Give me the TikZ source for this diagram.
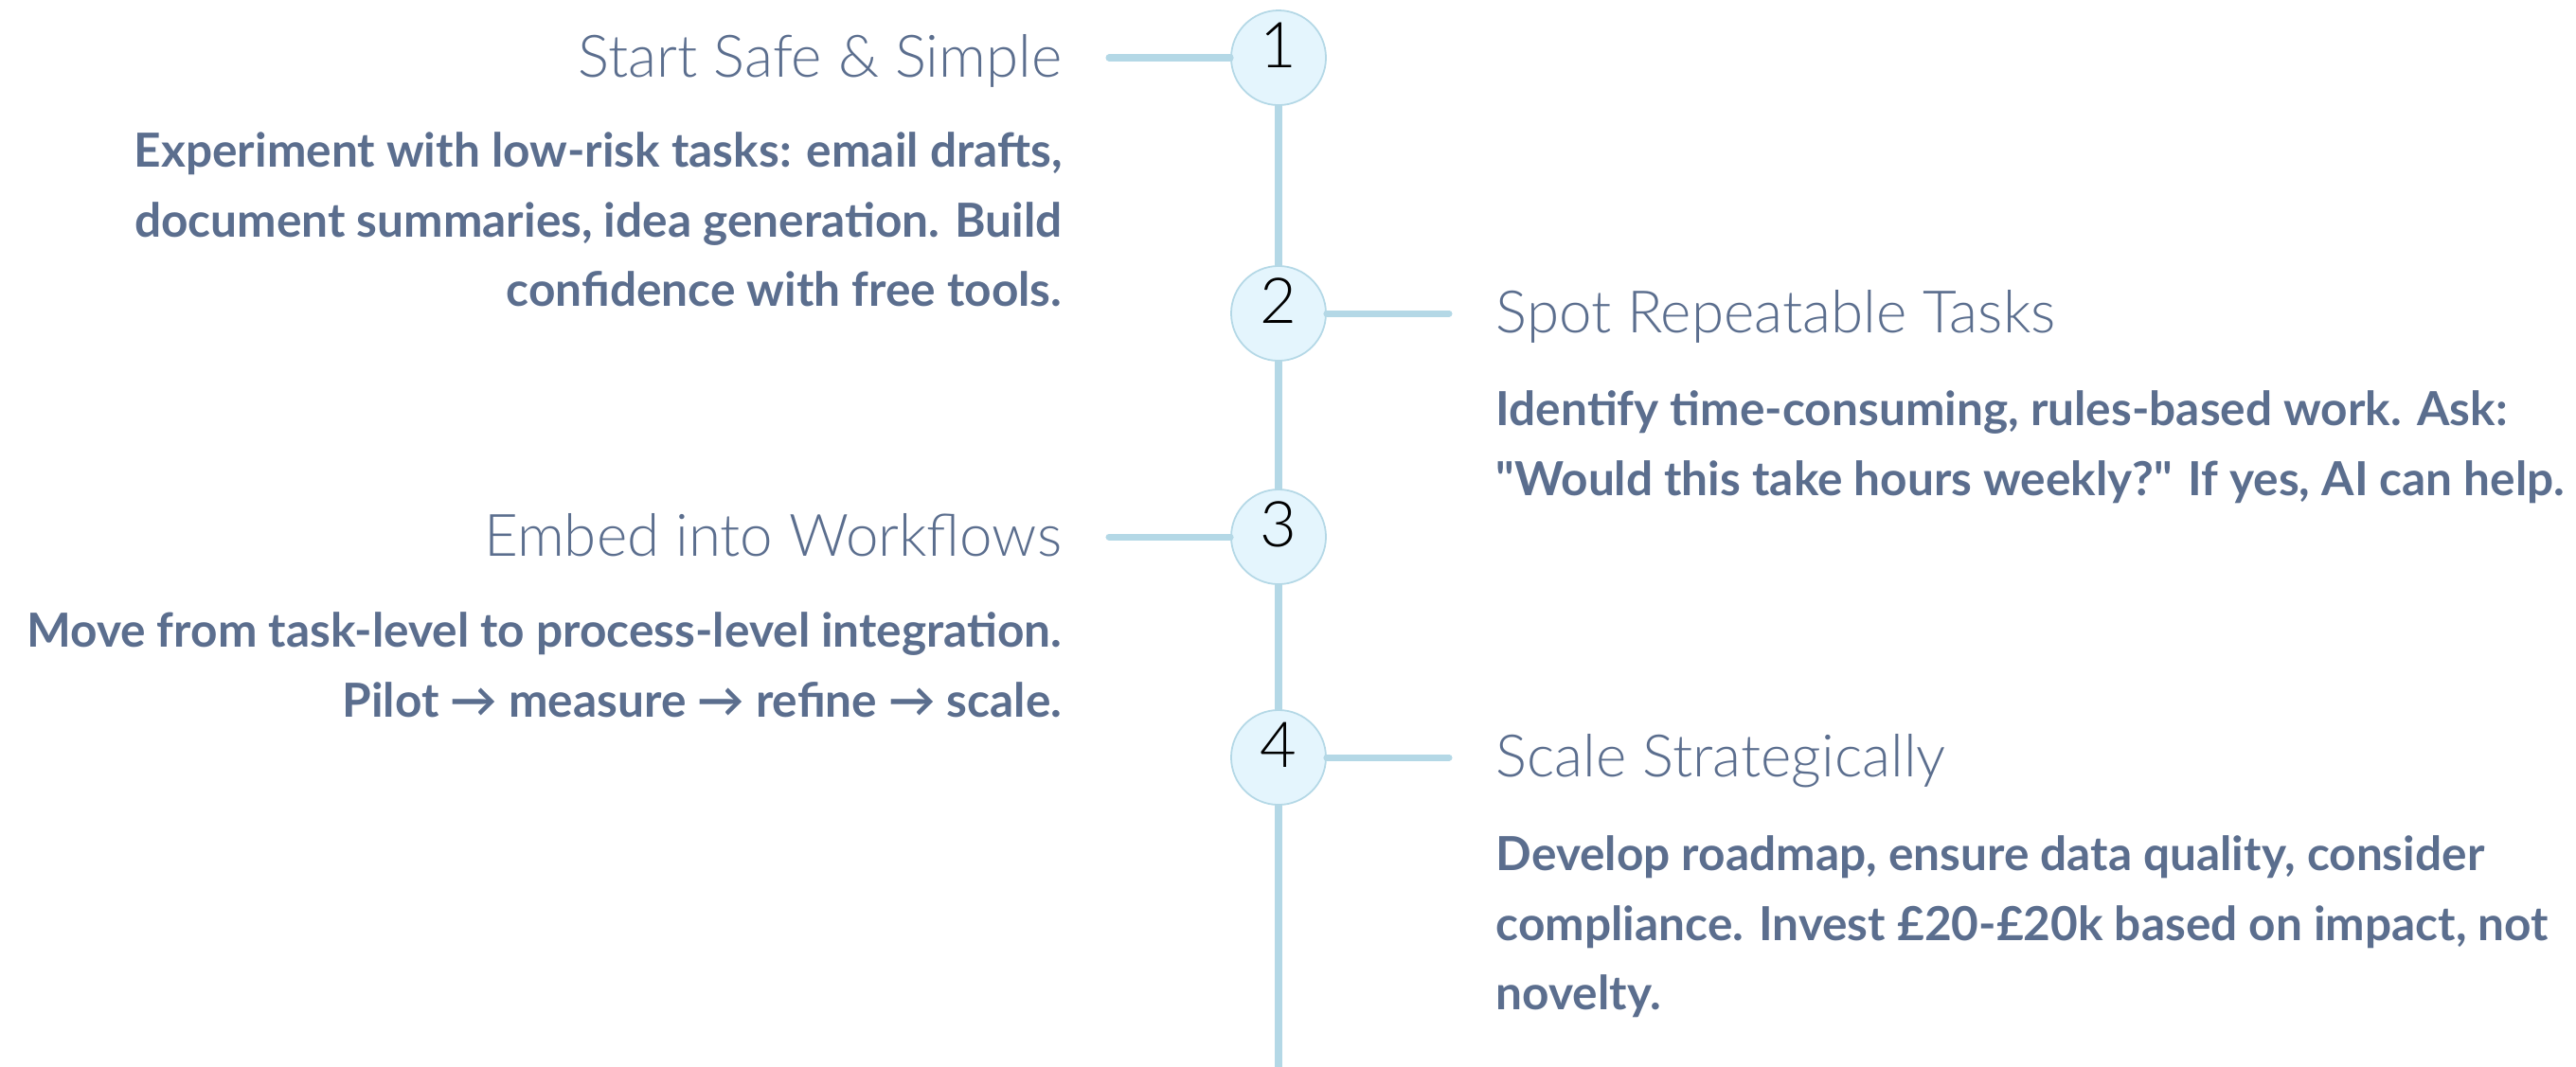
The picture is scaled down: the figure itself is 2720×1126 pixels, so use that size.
\documentclass[tikz,border=0pt]{standalone}
\usepackage{fontspec}
\setmainfont{Lato}
\newfontfamily\titlefont{Lato Light}
\newfontfamily\numfont{Lato Light}
\usetikzlibrary{positioning}
\definecolor{slate}{HTML}{5B6E8E}
\definecolor{railblue}{HTML}{B4D8E6}
\definecolor{bubble}{HTML}{E4F5FD}
\tikzset{font={\fontsize{12pt}{20.8pt}\selectfont}}

\begin{document}
\begin{tikzpicture}[x=0.01cm,y=-0.01cm,
    rail/.style={draw=railblue,line width=2pt,line cap=round},
    step node/.style={circle,draw=railblue,line width=0.5pt,fill=bubble,minimum size=1cm,
                      inner sep=0pt,text depth=0.26cm,text=black,font={\numfont\fontsize{19pt}{20pt}\selectfont}},
    head/.style={inner sep=0pt,text=slate,font={\titlefont\fontsize{17.6pt}{20pt}\selectfont}},
    blurb/.style={inner sep=0pt,text=slate,font={\bfseries\fontsize{14.1pt}{20.8pt}\selectfont}}]

  \useasboundingbox (0,0) rectangle (2720,1126);

  % the rail
  \coordinate (top) at (1350,61);
  \coordinate (bot) at (1350,1140);
  \draw[rail] (top) -- (bot);

  \node[step node] (1) at (1350,61)  {1};
  \node[step node] (2) at (1350,331) {2};
  \node[step node] (3) at (1350,567) {3};
  \node[step node] (4) at (1350,800) {4};

  % stubs
  \coordinate (e1) at (1171,61);
  \coordinate (e2) at (1530,331);
  \coordinate (e3) at (1171,567);
  \coordinate (e4) at (1530,800);
  \draw[rail] (1) -- (e1)
              (2) -- (e2)
              (3) -- (e3)
              (4) -- (e4);

  % left side (base of a blurb = its last line)
  \node[head,anchor=base east] (t1) at ([xshift=-0.49cm,yshift=-0.20cm]e1) {Start Safe \& Simple};
  \node[blurb,anchor=base east,align=right] (b1) at ([yshift=-2.42cm]t1.base east)
    {Experiment with low-risk tasks: email drafts,\\
     document summaries, idea generation. Build\\
     confidence with free tools.};

  \node[head,anchor=base east] (t3) at ([xshift=-0.49cm,yshift=-0.20cm]e3) {Embed into Workflows};
  \node[blurb,anchor=base east,align=right] (b3) at ([yshift=-1.70cm]t3.base east)
    {Move from task-level to process-level integration.\\
     Pilot \textrightarrow{} measure \textrightarrow{} refine \textrightarrow{} scale.};

  % right side
  \node[head,anchor=base west] (t2) at ([xshift=0.49cm,yshift=-0.20cm]e2) {Spot Repeatable Tasks};
  \node[blurb,anchor=base west,align=left] (b2) at ([yshift=-1.72cm]t2.base west)
    {Identify time-consuming, rules-based work. Ask:\\
     \textquotedbl Would this take hours weekly?\textquotedbl{} If yes, AI can help.};

  \node[head,anchor=base west] (t4) at ([xshift=0.49cm,yshift=-0.20cm]e4) {Scale Strategically};
  \node[blurb,anchor=base west,align=left] (b4) at ([yshift=-2.46cm]t4.base west)
    {Develop roadmap, ensure data quality, consider\\
     compliance. Invest £20-£20k based on impact, not\\
     novelty.};
\end{tikzpicture}
\end{document}
